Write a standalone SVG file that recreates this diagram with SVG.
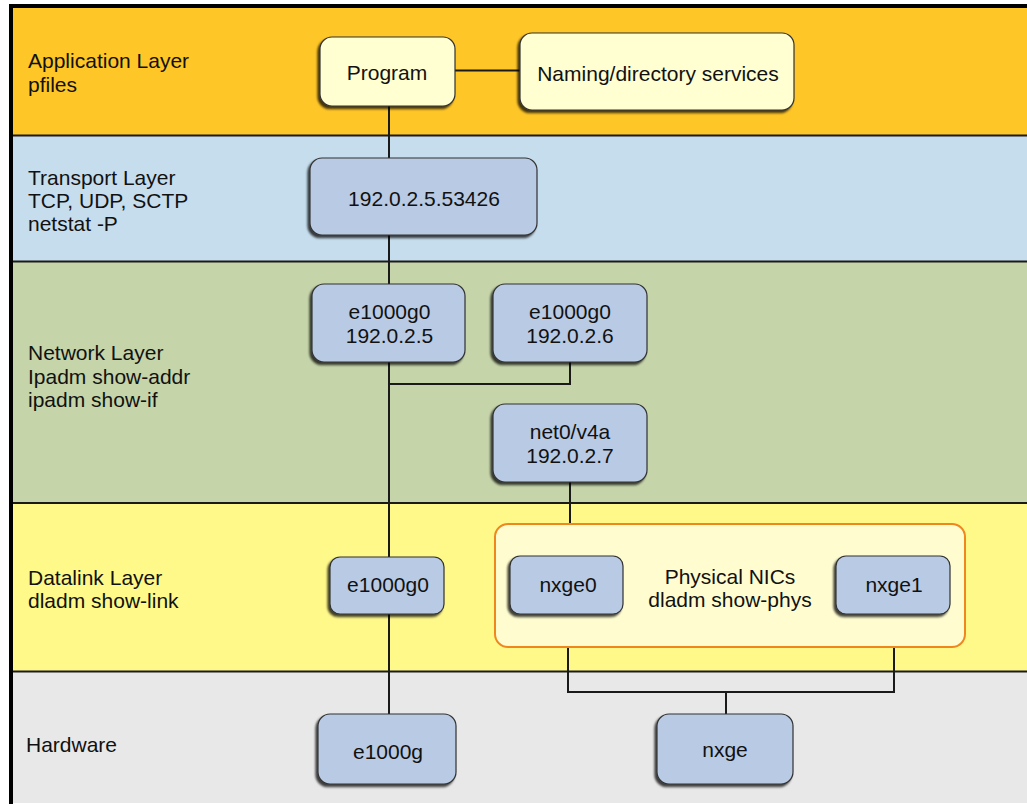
<svg xmlns="http://www.w3.org/2000/svg" width="1027" height="804" viewBox="0 0 1027 804">
  <defs>
    <filter id="shadow" x="-10%" y="-10%" width="120%" height="130%">
      <feDropShadow dx="-2" dy="2.5" stdDeviation="0.8" flood-color="#000" flood-opacity="0.75"/>
    </filter>
    <style>
      .lbl { font-family: "Liberation Sans", Arial, sans-serif; font-size: 21px; fill: #111; }
      .ntx { font-family: "Liberation Sans", Arial, sans-serif; font-size: 21px; fill: #111; text-anchor: middle; }
      .app { fill: #FFFFD2; stroke: #333; stroke-width: 1.2; filter: url(#shadow); }
      .blue { fill: #B8CAE4; stroke: #333; stroke-width: 1.2; filter: url(#shadow); }
      .sep { stroke: #1a1a1a; stroke-width: 2; }
      .wire { fill: none; stroke: #1a1a1a; stroke-width: 2; }
    </style>
  </defs>

  <rect width="1027" height="804" fill="#ffffff"/>

  <!-- layer bands -->
  <g id="layers">
    <rect x="11" y="6" width="1016" height="130" fill="#FFC627"/>
    <rect x="11" y="136" width="1016" height="126" fill="#C6DDED"/>
    <rect x="11" y="262" width="1016" height="241" fill="#C5D4A9"/>
    <rect x="11" y="503" width="1016" height="169" fill="#FFF98A"/>
    <rect x="11" y="672" width="1016" height="131" fill="#E8E8E8"/>
    <line class="sep" x1="11" y1="135.5" x2="1027" y2="135.5"/>
    <line class="sep" x1="11" y1="261.5" x2="1027" y2="261.5"/>
    <line class="sep" x1="11" y1="503" x2="1027" y2="503"/>
    <line class="sep" x1="11" y1="671.5" x2="1027" y2="671.5"/>
    <rect x="9" y="4" width="4" height="800" fill="#000"/>
    <rect x="9" y="4" width="1018" height="4" fill="#000"/>
  </g>

  <!-- layer captions -->
  <g id="captions">
    <text class="lbl" x="28" y="68">Application Layer</text>
    <text class="lbl" x="28" y="91.5">pfiles</text>
    <text class="lbl" x="28" y="185">Transport Layer</text>
    <text class="lbl" x="28" y="208">TCP, UDP, SCTP</text>
    <text class="lbl" x="28" y="231">netstat -P</text>
    <text class="lbl" x="28" y="360">Network Layer</text>
    <text class="lbl" x="28" y="383.5">Ipadm show-addr</text>
    <text class="lbl" x="28" y="407">ipadm show-if</text>
    <text class="lbl" x="28" y="585">Datalink Layer</text>
    <text class="lbl" x="28" y="608">dladm show-link</text>
    <text class="lbl" x="26" y="752">Hardware</text>
  </g>

  <!-- connectors -->
  <g id="connectors">
    <line class="wire" x1="455" y1="70.5" x2="520" y2="70.5"/>
    <line class="wire" x1="389" y1="106" x2="389" y2="158"/>
    <line class="wire" x1="389" y1="235" x2="389" y2="284"/>
    <line class="wire" x1="389" y1="362" x2="389" y2="557"/>
    <polyline class="wire" points="389,384 570,384 570,362"/>
    <line class="wire" x1="570" y1="482" x2="570" y2="556"/>
    <line class="wire" x1="389" y1="614" x2="389" y2="714"/>
    <polyline class="wire" points="568,614 568,692 894,692 894,614"/>
    <line class="wire" x1="726" y1="692" x2="726" y2="714"/>
  </g>

  <!-- application layer -->
  <g id="program">
    <rect class="app" x="320" y="37" width="135" height="69" rx="12"/>
    <text class="ntx" x="387" y="80">Program</text>
  </g>
  <g id="naming">
    <rect class="app" x="520" y="33" width="274" height="77" rx="12"/>
    <text class="ntx" x="658" y="80.5">Naming/directory services</text>
  </g>

  <!-- transport layer -->
  <g id="socket">
    <rect class="blue" x="310" y="158" width="227" height="77" rx="12"/>
    <text class="ntx" x="424" y="206">192.0.2.5.53426</text>
  </g>

  <!-- network layer -->
  <g id="ip-e1000g0-5">
    <rect class="blue" x="312" y="284" width="153" height="78" rx="12"/>
    <text class="ntx" x="389.5" y="319">e1000g0</text>
    <text class="ntx" x="389.5" y="343">192.0.2.5</text>
  </g>
  <g id="ip-e1000g0-6">
    <rect class="blue" x="493" y="284" width="154" height="78" rx="12"/>
    <text class="ntx" x="570" y="319">e1000g0</text>
    <text class="ntx" x="570" y="343">192.0.2.6</text>
  </g>
  <g id="ip-net0">
    <rect class="blue" x="493" y="404" width="154" height="78" rx="12"/>
    <text class="ntx" x="570" y="439">net0/v4a</text>
    <text class="ntx" x="570" y="463">192.0.2.7</text>
  </g>

  <!-- datalink layer -->
  <g id="link-e1000g0">
    <rect class="blue" x="330" y="557" width="114" height="57" rx="10"/>
    <text class="ntx" x="388" y="592">e1000g0</text>
  </g>
  <g id="physical-nics">
    <rect x="495" y="524" width="470" height="123" rx="13" fill="#FFFDD0" stroke="#F0871E" stroke-width="2"/>
    <text class="ntx" x="730" y="584">Physical NICs</text>
    <text class="ntx" x="730" y="607">dladm show-phys</text>
  </g>
  <g id="nxge0">
    <rect class="blue" x="510" y="556" width="113" height="58" rx="10"/>
    <text class="ntx" x="568" y="592">nxge0</text>
  </g>
  <g id="nxge1">
    <rect class="blue" x="836" y="556" width="114" height="58" rx="10"/>
    <text class="ntx" x="894" y="592">nxge1</text>
  </g>

  <!-- hardware -->
  <g id="hw-e1000g">
    <rect class="blue" x="318" y="714" width="138" height="70" rx="12"/>
    <text class="ntx" x="388" y="759">e1000g</text>
  </g>
  <g id="hw-nxge">
    <rect class="blue" x="657" y="714" width="136" height="70" rx="12"/>
    <text class="ntx" x="725" y="757">nxge</text>
  </g>
</svg>
